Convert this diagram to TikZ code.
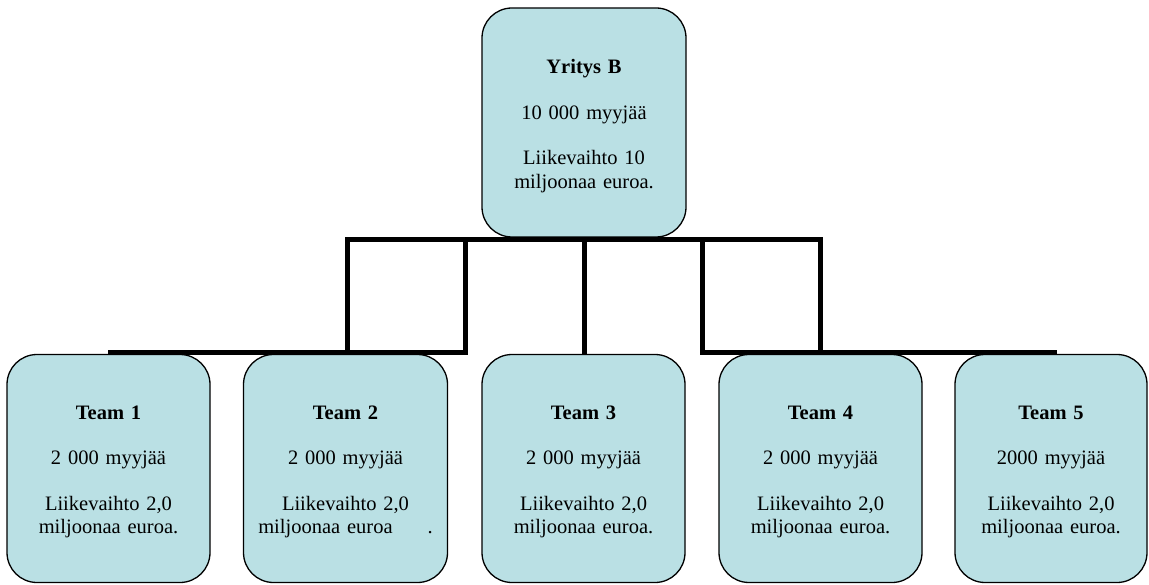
\documentclass[tikz,border=0pt]{standalone}
\usepackage{fontspec}
\setmainfont{Liberation Serif}
\definecolor{boxfill}{RGB}{186,224,228}
\begin{document}
\begin{tikzpicture}[x=1pt,y=-1pt,
  orgbox/.style={draw=black, line width=1.3pt, fill=boxfill, rounded corners=30pt,
    minimum height=228pt, inner sep=0pt},
  orgtext/.style={text width=188pt, align=center, inner sep=0pt,
    font=\fontsize{20.5}{23.5}\selectfont},
  bar/.style={line width=5pt, line cap=rect, line join=miter}]
\useasboundingbox (0,0) rectangle (1149,585);
% connectors
\coordinate (ul) at (347,240);
\coordinate (ur) at (820,240);
\coordinate (ua) at (465,240);
\coordinate (ub) at (702,240);
\coordinate (ll) at (108,352.5);
\coordinate (la) at (465,352.5);
\coordinate (lb) at (702,352.5);
\coordinate (lr) at (1057,352.5);
\coordinate (sl) at (347,352.5);
\coordinate (sr) at (820,352.5);
\draw[bar] (sl) -- (ul) -- (ur) -- (sr);
\draw[bar] (ua) -- (la);
\draw[bar] (ub) -- (lb);
\draw[bar,line cap=butt] (ll) -- (la);
\draw[bar,line cap=butt] (lb) -- (lr);
% boxes
\node[orgbox, minimum width=204pt, minimum height=229pt] (top) at (584,122.5) {};
\node[orgbox, minimum width=203pt] (t1) at (108.5,468.5) {};
\node[orgbox, minimum width=204pt] (t2) at (345.5,468.5) {};
\node[orgbox, minimum width=203pt] (t3) at (583.5,468.5) {};
\node[orgbox, minimum width=203pt] (t4) at (820.5,468.5) {};
\node[orgbox, minimum width=192pt] (t5) at (1051,468.5) {};
% texts
\node[orgtext] (toptext) at ([yshift=-3.5pt]top.center)
  {\textbf{Yritys B}\\[22pt]10 000 myyjää\\[22pt]Liikevaihto 10\\miljoonaa euroa.};
\node[orgtext] (t1text) at ([yshift=-3.5pt]t1.center)
  {\textbf{Team 1}\\[22pt]2 000 myyjää\\[22pt]Liikevaihto 2,0\\miljoonaa euroa.};
\node[orgtext] (t2text) at ([yshift=-3.5pt]t2.center)
  {\textbf{Team 2}\\[22pt]2 000 myyjää\\[22pt]Liikevaihto 2,0\\miljoonaa euroa\hspace{35pt}.};
\node[orgtext] (t3text) at ([yshift=-3.5pt]t3.center)
  {\textbf{Team 3}\\[22pt]2 000 myyjää\\[22pt]Liikevaihto 2,0\\miljoonaa euroa.};
\node[orgtext] (t4text) at ([yshift=-3.5pt]t4.center)
  {\textbf{Team 4}\\[22pt]2 000 myyjää\\[22pt]Liikevaihto 2,0\\miljoonaa euroa.};
\node[orgtext, text width=180pt] (t5text) at ([yshift=-3.5pt]t5.center)
  {\textbf{Team 5}\\[22pt]2000 myyjää\\[22pt]Liikevaihto 2,0\\miljoonaa euroa.};
\draw[bar,line cap=butt] (top.south) -- (top.south |- t3.north);
\end{tikzpicture}
\end{document}
